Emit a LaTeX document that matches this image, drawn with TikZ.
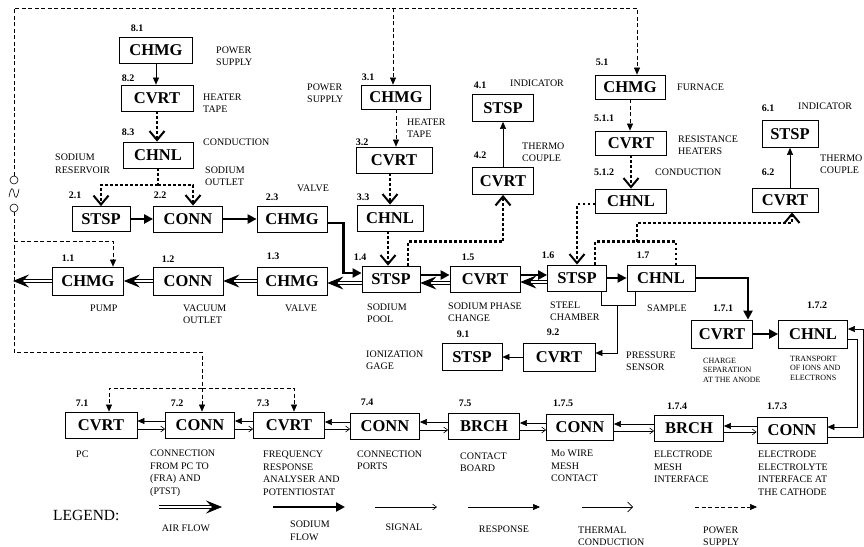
\documentclass[tikz,border=0pt]{standalone}
\usepackage{fontspec}
\setmainfont{Liberation Serif}
\usetikzlibrary{arrows.meta}

\begin{document}
\begin{tikzpicture}[x=1pt,y=-1pt,
  blk/.style={draw,line width=0.8pt,minimum width=#1,minimum height=26pt,inner sep=1pt,font=\fontsize{16.5}{18}\selectfont\bfseries},
  blk/.default=69pt,
  num/.style={inner sep=0pt,font=\fontsize{10}{12}\selectfont\bfseries},
  lbl/.style={anchor=west,align=left,inner sep=0pt,font=\fontsize{10}{12.5}\selectfont},
  lblsm/.style={anchor=west,align=left,inner sep=0pt,font=\fontsize{8}{9.5}\selectfont},
  air/.style={double,double distance=2.2pt,line width=0.7pt,-{Stealth[length=16pt,width=13pt,inset=6pt]}},
  sodium/.style={line width=2.4pt,-{Triangle[length=9pt,width=9pt]}},
  resp/.style={line width=0.6pt,-{Triangle[length=7pt,width=6pt]}},
  sig/.style={line width=0.6pt,-{Straight Barb[length=4pt,width=6pt]}},
  therm/.style={line width=2.6pt,dash pattern=on 2.6pt off 2.4pt,-{Straight Barb[length=9pt,width=15pt,line width=2pt]}},
  thermline/.style={line width=2.6pt,dash pattern=on 2.6pt off 2.4pt},
  thermleg/.style={line width=0.6pt,-{Straight Barb[length=5pt,width=10pt]}},
  pwr/.style={line width=0.6pt,dash pattern=on 4pt off 2.5pt,-{Triangle[length=7pt,width=6pt]}},
  pwrline/.style={line width=0.6pt,dash pattern=on 4pt off 2.5pt}
]
  \fill[white] (0,0) rectangle (864,546);
  \useasboundingbox (0,0) rectangle (864,546);

  % boxes
  \node[blk=73pt] (b81) at (156,50) {CHMG};
  \node[blk=72pt] (b82) at (157,98) {CVRT};
  \node[blk=70pt] (b83) at (158,155) {CHNL};
  \node[blk=58pt,minimum height=25pt] (b21) at (101,219) {STSP};
  \node[blk] (b22) at (188,219) {CONN};
  \node[blk=70pt] (b23) at (292,219) {CHMG};
  \node[blk,minimum height=24pt] (b31) at (396,97) {CHMG};
  \node[blk=76pt] (b32) at (394,160) {CVRT};
  \node[blk=66pt] (b33) at (390,218) {CHNL};
  \node[blk=61pt,minimum height=27pt] (b41) at (503,108) {STSP};
  \node[blk=61pt,minimum height=27pt] (b42) at (503,181) {CVRT};
  \node[blk=70pt,minimum height=24pt] (b51) at (630,87) {CHMG};
  \node[blk=71pt,minimum height=24pt] (b511) at (631,143) {CVRT};
  \node[blk=71pt,minimum height=24pt] (b512) at (631,201) {CHNL};
  \node[blk=56pt,minimum height=27pt] (b61) at (790,134) {STSP};
  \node[blk=66pt,minimum height=24pt] (b62) at (785,200) {CVRT};
  \node[blk=71pt,minimum height=28pt] (b11) at (88,281) {CHMG};
  \node[blk=70pt,minimum height=28pt] (b12) at (188,281) {CONN};
  \node[blk=70pt,minimum height=28pt] (b13) at (292,281) {CHMG};
  \node[blk=58pt] (b14) at (391,279) {STSP};
  \node[blk=70pt] (b15) at (485,279) {CVRT};
  \node[blk=59pt] (b16) at (577,278) {STSP};
  \node[blk=68pt] (b17) at (661,278) {CHNL};
  \node[blk=60pt,minimum height=27pt] (b91) at (472,357) {STSP};
  \node[blk=72pt,minimum height=28pt] (b92) at (559,357) {CVRT};
  \node[blk=61pt,minimum height=28pt] (b171) at (722,334) {CVRT};
  \node[blk,minimum height=28pt] (b172) at (813,334) {CHNL};
  \node[blk=72pt] (b71) at (101,425) {CVRT};
  \node[blk] (b72) at (200,425) {CONN};
  \node[blk=71pt] (b73) at (289,425) {CVRT};
  \node[blk] (b74) at (385,426) {CONN};
  \node[blk=71pt] (b75) at (484,426) {BRCH};
  \node[blk=67pt] (b175) at (580,427) {CONN};
  \node[blk] (b174) at (689,428) {BRCH};
  \node[blk=70pt] (b173) at (792,430) {CONN};

  % numbers
  \node[num] at (137,28) {8.1};   \node[num] at (128,78) {8.2};   \node[num] at (128,132) {8.3};
  \node[num] at (75,195) {2.1};   \node[num] at (160,195) {2.2};  \node[num] at (272,197) {2.3};
  \node[num] at (368,77) {3.1};   \node[num] at (362,142) {3.2};  \node[num] at (363,197) {3.3};
  \node[num] at (480,85) {4.1};   \node[num] at (480,155) {4.2};
  \node[num] at (602,62) {5.1};   \node[num] at (604,118) {5.1.1}; \node[num] at (604,172) {5.1.2};
  \node[num] at (768,108) {6.1};  \node[num] at (768,172) {6.2};
  \node[num] at (68,258) {1.1};   \node[num] at (168,259) {1.2};  \node[num] at (273,256) {1.3};
  \node[num] at (360,257) {1.4};  \node[num] at (468,257) {1.5};  \node[num] at (548,255) {1.6};
  \node[num] at (643,255) {1.7};
  \node[num] at (463,334) {9.1};  \node[num] at (553,332) {9.2};
  \node[num] at (723,308) {1.7.1}; \node[num] at (817,305) {1.7.2};
  \node[num] at (82,403) {7.1};   \node[num] at (177,403) {7.2};  \node[num] at (263,403) {7.3};
  \node[num] at (367,402) {7.4};  \node[num] at (465,403) {7.5};  \node[num] at (563,403) {1.7.5};
  \node[num] at (677,406) {1.7.4}; \node[num] at (777,406) {1.7.3};

  % labels
  \node[lbl] at (216,56) {POWER\\SUPPLY};
  \node[lbl] at (203,103) {HEATER\\TAPE};
  \node[lbl] at (203,142) {CONDUCTION};
  \node[lbl] at (55,164) {SODIUM\\RESERVOIR};
  \node[lbl] at (205,176) {SODIUM\\OUTLET};
  \node[lbl] at (297,188) {VALVE};
  \node[lbl] at (307,93) {POWER\\SUPPLY};
  \node[lbl] at (407,128) {HEATER\\TAPE};
  \node[lbl] at (510,83) {INDICATOR};
  \node[lbl] at (522,152) {THERMO\\COUPLE};
  \node[lbl] at (677,87) {FURNACE};
  \node[lbl] at (678,145) {RESISTANCE\\HEATERS};
  \node[lbl] at (655,172) {CONDUCTION};
  \node[lbl] at (798,106) {INDICATOR};
  \node[lbl] at (820,164) {THERMO\\COUPLE};
  \node[lbl] at (90,308) {PUMP};
  \node[lbl] at (183,314) {VACUUM\\OUTLET};
  \node[lbl] at (285,308) {VALVE};
  \node[lbl] at (367,313) {SODIUM\\POOL};
  \node[lbl] at (448,312) {SODIUM PHASE\\CHANGE};
  \node[lbl] at (550,311) {STEEL\\CHAMBER};
  \node[lbl] at (647,308) {SAMPLE};
  \node[lbl] at (366,360) {IONIZATION\\GAGE};
  \node[lbl] at (626,361) {PRESSURE\\SENSOR};
  \node[lblsm] at (703,370) {CHARGE\\SEPARATION\\AT THE ANODE};
  \node[lblsm] at (790,368) {TRANSPORT\\OF IONS AND\\ELECTRONS};
  \node[lbl] at (76,454) {PC};
  \node[lbl] at (150,473) {CONNECTION\\FROM PC TO\\(FRA) AND\\(PTST)};
  \node[lbl] at (263,473) {FREQUENCY\\RESPONSE\\ANALYSER AND\\POTENTIOSTAT};
  \node[lbl] at (357,460) {CONNECTION\\PORTS};
  \node[lbl] at (460,462) {CONTACT\\BOARD};
  \node[lbl] at (551,466) {Mo WIRE\\MESH\\CONTACT};
  \node[lbl] at (654,467) {ELECTRODE\\MESH\\INTERFACE};
  \node[lbl] at (758,473) {ELECTRODE\\ELECTROLYTE\\INTERFACE AT\\THE CATHODE};

  % power source
  \node[circle,draw,line width=0.6pt,inner sep=0pt,minimum size=8pt] (ac1) at (14,180) {};
  \node[circle,draw,line width=0.6pt,inner sep=0pt,minimum size=8pt] (ac2) at (14,208) {};
  \draw[line width=0.6pt] (9,197) .. controls (11,186) and (13,187) .. (14,193) .. controls (15,199) and (17,200) .. (19,189);
  \coordinate (pstop) at (14,8);
  \coordinate (psbot) at (14,352);
  \coordinate (j7) at (202,388);
  \draw[pwr] (ac1.north) -- (pstop) -| ([xshift=7pt]b51.north);
  \draw[pwr] ([xshift=-3pt]b31.north |- pstop) -- ([xshift=-3pt]b31.north);
  \draw[pwr] (ac2.south) -- (psbot) -| ([xshift=2pt]b72.north);
  \draw[pwr] (ac2.south |- 0,241) -| ([xshift=25pt]b11.north);
  \draw[pwr] (j7) -| ([xshift=8pt]b71.north);
  \draw[pwr] (j7) -| ([xshift=5pt]b73.north);
  \draw[pwr] (b31.south) -- (b31.south |- b32.north);
  \draw[pwr] (b51.south) -- (b51.south |- b511.north);

  % signals and responses
  \draw[resp] (b81.south) -- (b81.south |- b82.north);
  \draw[resp] (b42) -- (b41);
  \draw[resp] (b61.south |- b62.north) -- (b61.south);
  \draw[resp] (b92.west) -- (b92.west -| b91.east);
  \coordinate (j9) at (617,305);
  \draw[line width=0.6pt] ([xshift=24pt]b16.south) -- ++(0,14) -| ([xshift=-26pt]b17.south);
  \draw[resp] (j9) |- ([yshift=4pt]b92.east);
  \foreach \a/\b in {b71/b72,b72/b73,b73/b74,b74/b75,b75/b175,b175/b174,b174/b173}{
    \draw[resp] ([yshift=4pt]\b.west) -- ([yshift=4pt]\b.west -| \a.east);
    \draw[sig] ([yshift=-4pt]\a.east) -- ([yshift=-4pt]\a.east -| \b.west);
  }
  \draw[resp] ([yshift=-7pt]b173.east) -- ++(36,0) |- ([yshift=5pt]b172.east);
  \draw[resp] ([yshift=-5pt]b172.east) -- ++(9,0) |- ([yshift=3pt]b173.east);

  % thermal conduction
  \coordinate (j8) at (158,185);
  \coordinate (j67) at (637,242);
  \draw[therm] (b82.south) -- (b82.south |- b83.north);
  \draw[thermline] (b83.south) -- (j8);
  \draw[therm] (j8) -| (b21.north);
  \draw[therm] (j8) -| ([xshift=5pt]b22.north);
  \draw[therm] (b33.north |- b32.south) -- (b33.north);
  \draw[therm] ([xshift=-2pt]b33.south) -- ([xshift=-2pt]b33.south |- b14.north);
  \draw[therm] ([xshift=17pt]b14.north) -- ++(0,-24) -| (b42.south);
  \draw[therm] (b511.south) -- (b511.south |- b512.north);
  \draw[therm] ([yshift=-3pt]b512.west) -| (b16.north);
  \draw[thermline] ([xshift=18pt]b16.north) -- ++(0,-23) -| ([xshift=15pt]b17.north);
  \draw[therm] (j67) -- ++(0,-19) -| ([xshift=7pt]b62.south);

  % sodium flow
  \draw[sodium] (b21) -- (b22);
  \draw[sodium] (b22) -- (b23);
  \draw[sodium] ([yshift=-4pt]b23.east) -- ++(16,0) |- ([yshift=6pt]b14.west);
  \draw[sodium] ([yshift=4pt]b14.east) -- ([yshift=4pt]b14.east -| b15.west);
  \draw[sodium] ([yshift=4pt]b15.east) -- ([yshift=4pt]b15.east -| b16.west);
  \draw[sodium,line width=1.8pt] (b16) -- (b17);
  \draw[sodium] (b17.east) -| ([xshift=26pt]b171.north);
  \draw[sodium] (b171) -- (b172);

  % air flow
  \coordinate (exh) at (13,281);
  \draw[air] (b11.west) -- (exh);
  \draw[air] (b12) -- (b11);
  \draw[air] (b13) -- (b12);
  \draw[air] ([yshift=-4pt]b14.west) -- ([yshift=-4pt]b14.west -| b13.east);
  \draw[air] ([yshift=-4pt]b15.west) -- ([yshift=-4pt]b15.west -| b14.east);
  \draw[air] ([yshift=-4pt]b16.west) -- ([yshift=-4pt]b16.west -| b15.east);

  % legend
  \node[anchor=west,inner sep=0pt,font=\fontsize{15.5}{17}\selectfont] at (53,515) {LEGEND:};
  \draw[air] (159,507) -- (222,507);
  \draw[sodium] (273,507) -- (345,507);
  \draw[sig] (375,507) -- (437,507);
  \draw[resp] (468,507) -- (540,507);
  \draw[thermleg] (582,507) -- (633,507);
  \draw[pwr] (695,507) -- (757,507);
  \node[lbl,anchor=center] at (186,528) {AIR FLOW};
  \node[lbl] at (290,531) {SODIUM\\FLOW};
  \node[lbl,anchor=center] at (404,527) {SIGNAL};
  \node[lbl,anchor=center] at (504,529) {RESPONSE};
  \node[lbl] at (578,536) {THERMAL\\CONDUCTION};
  \node[lbl] at (703,536) {POWER\\SUPPLY};
\end{tikzpicture}
\end{document}
